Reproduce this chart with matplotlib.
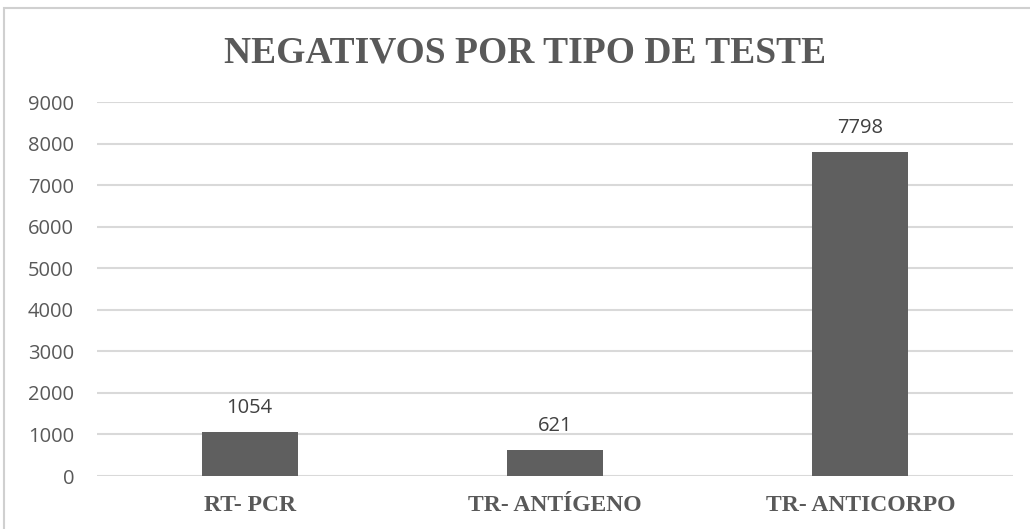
import matplotlib.pyplot as plt
from matplotlib.patches import Rectangle

categorias = ["RT- PCR", "TR- ANTÍGENO", "TR- ANTICORPO"]
negativos = [1054, 621, 7798]
ticks_y = [0, 1000, 2000, 3000, 4000, 5000, 6000, 7000, 8000, 9000]

cinza = "#595959"

fig = plt.figure(figsize=(10.30, 5.29), dpi=100)
# moldura do grafico
fig.patches.append(Rectangle((4 / 1030, -0.1), 1.1, 1 - 8 / 529 + 0.1,
                             transform=fig.transFigure, fill=False,
                             edgecolor="#d0d0d0", linewidth=1.5))

ax = fig.add_axes([97 / 1030, 1 - 476 / 529, (1013 - 97) / 1030, (476 - 102) / 529])
x = range(len(categorias))
barras = ax.bar(x, negativos, width=0.315, color="#5f5f5f", zorder=3)
ax.set_xlim(-0.5, 2.5)
ax.set_ylim(0, 9000)
ax.set_yticks(ticks_y)
ax.set_yticklabels([str(t) for t in ticks_y], fontsize=14.5, color=cinza,
                   family="Open Sans")
ax.set_xticks(list(x))
ax.set_xticklabels(categorias, fontsize=17, color=cinza, family="Liberation Serif",
                   fontweight="bold")
ax.tick_params(axis="both", length=0)
ax.tick_params(axis="x", pad=14)
ax.tick_params(axis="y", pad=16.5)
ax.grid(axis="y", color="#d9d9d9", linewidth=1.5, zorder=0)
for s in ax.spines.values():
    s.set_visible(False)

for b, v in zip(barras, negativos):
    ax.annotate(str(v), (b.get_x() + b.get_width() / 2, v), xytext=(0, 10),
                textcoords="offset points", ha="center", va="bottom",
                fontsize=14.5, color="#404040", family="Open Sans")

fig.text(525 / 1030, 1 - 53 / 529, "NEGATIVOS POR TIPO DE TESTE", ha="center", va="center",
         fontsize=27, fontweight="bold", color=cinza, family="Liberation Serif")

fig.savefig("out.png", dpi=100)
